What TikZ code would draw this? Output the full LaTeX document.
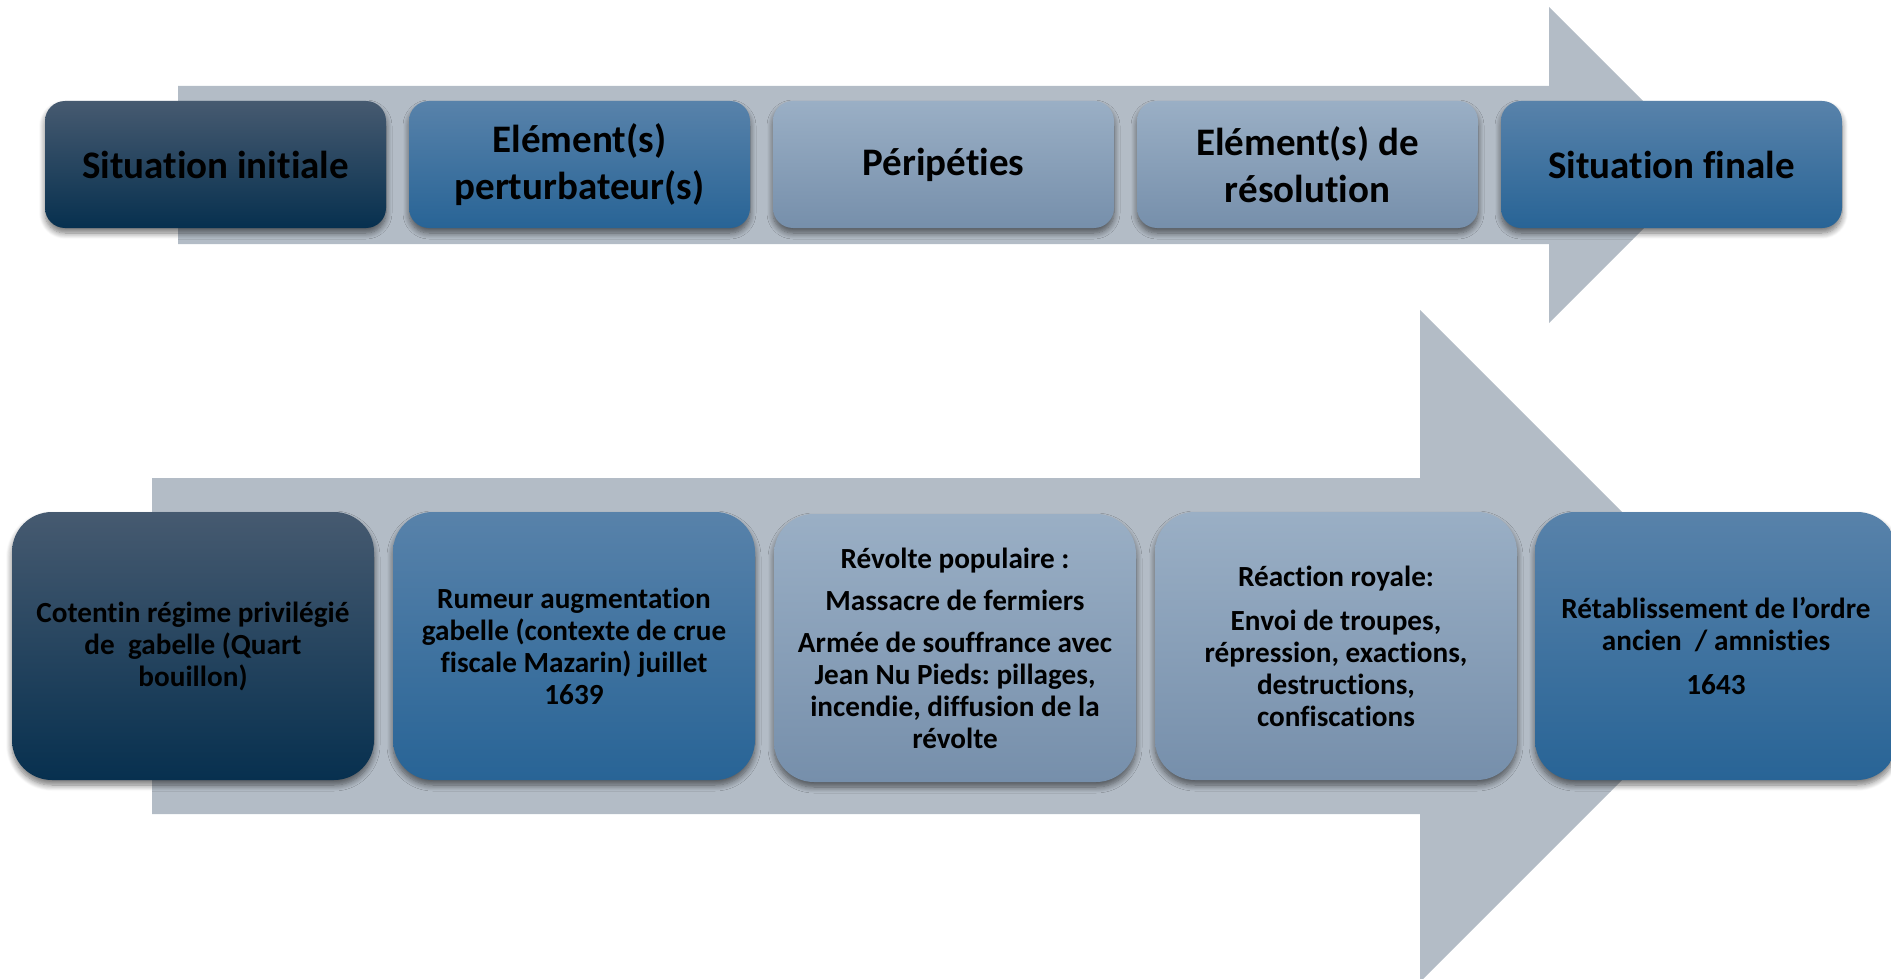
\documentclass[tikz,border=0pt]{standalone}
\usepackage{fontspec}
\setmainfont{Carlito}[Ligatures=NoCommon]
\usetikzlibrary{shadows.blur}
\frenchspacing
\definecolor{arrowgray}{HTML}{B3BCC6}
\definecolor{darkTop}{HTML}{465A70}
\definecolor{darkBot}{HTML}{07304F}
\definecolor{midTop}{HTML}{5882AA}
\definecolor{midBot}{HTML}{286496}
\definecolor{lightTop}{HTML}{9AAFC5}
\definecolor{lightBot}{HTML}{768FAB}
\begin{document}
\begin{tikzpicture}[x=0.5pt,y=-0.5pt,
  shad/.style={blur shadow={shadow xshift=0pt,shadow yshift=-2.5pt,shadow blur radius=3pt,shadow blur steps=8,shadow opacity=55}},
  topbox/.style={shad,rounded corners=10pt,minimum width=170.5pt,minimum height=63.5pt,
    align=center,inner sep=0pt,font=\bfseries\fontsize{19.5}{23.5}\selectfont},
  botbox/.style={shad,rounded corners=20pt,minimum width=181pt,minimum height=134pt,
    align=center,inner sep=0pt,font=\bfseries\fontsize{14.6}{16}\selectfont},
  dark/.style={top color=darkTop,bottom color=darkBot},
  mid/.style={top color=midTop,bottom color=midBot},
  light/.style={top color=lightTop,bottom color=lightBot}]
\useasboundingbox (0,0) rectangle (1891,979);
% arrows
\fill[arrowgray] (178,86) -- (1549,86) -- (1549,7) -- (1707,165) -- (1549,323) -- (1549,244) -- (178,244) -- cycle;
\fill[arrowgray] (152,478) -- (1420,478) -- (1420,310) -- (1756,646) -- (1420,982) -- (1420,814) -- (152,814) -- cycle;
% top row
\node[topbox,dark]  (t1) at (215.5,164.5) {Situation initiale};
\node[topbox,mid]   (t2) at (579.5,164.5) {Elément(s)\\perturbateur(s)};
\node[topbox,light] (t3) at (943.5,164.5) {Péripéties};
\node[topbox,light] (t4) at (1307.5,164.5) {Elément(s) de\\résolution};
\node[topbox,mid]   (t5) at (1671.5,164.5) {Situation finale};
% bottom row
\node[botbox,dark]  (b1) at (193,646) {Cotentin régime privilégié\\de\ \ gabelle (Quart\\bouillon)};
\node[botbox,mid]   (b2) at (574,646) {Rumeur augmentation\\gabelle (contexte de crue\\fiscale Mazarin) juillet\\1639};
\node[botbox,light] (b3) at (955,648) {Révolte populaire :\\[5pt]Massacre de fermiers\\[5pt]Armée de souffrance avec\\Jean Nu Pieds: pillages,\\incendie, diffusion de la\\révolte};
\node[botbox,light] (b4) at (1336,646) {Réaction royale:\\[6pt]Envoi de troupes,\\répression, exactions,\\destructions,\\confiscations};
\node[botbox,mid]   (b5) at (1716,646) {Rétablissement de l’ordre\\ancien\ \ / amnisties\\[6pt]1643};
\end{tikzpicture}
\end{document}
